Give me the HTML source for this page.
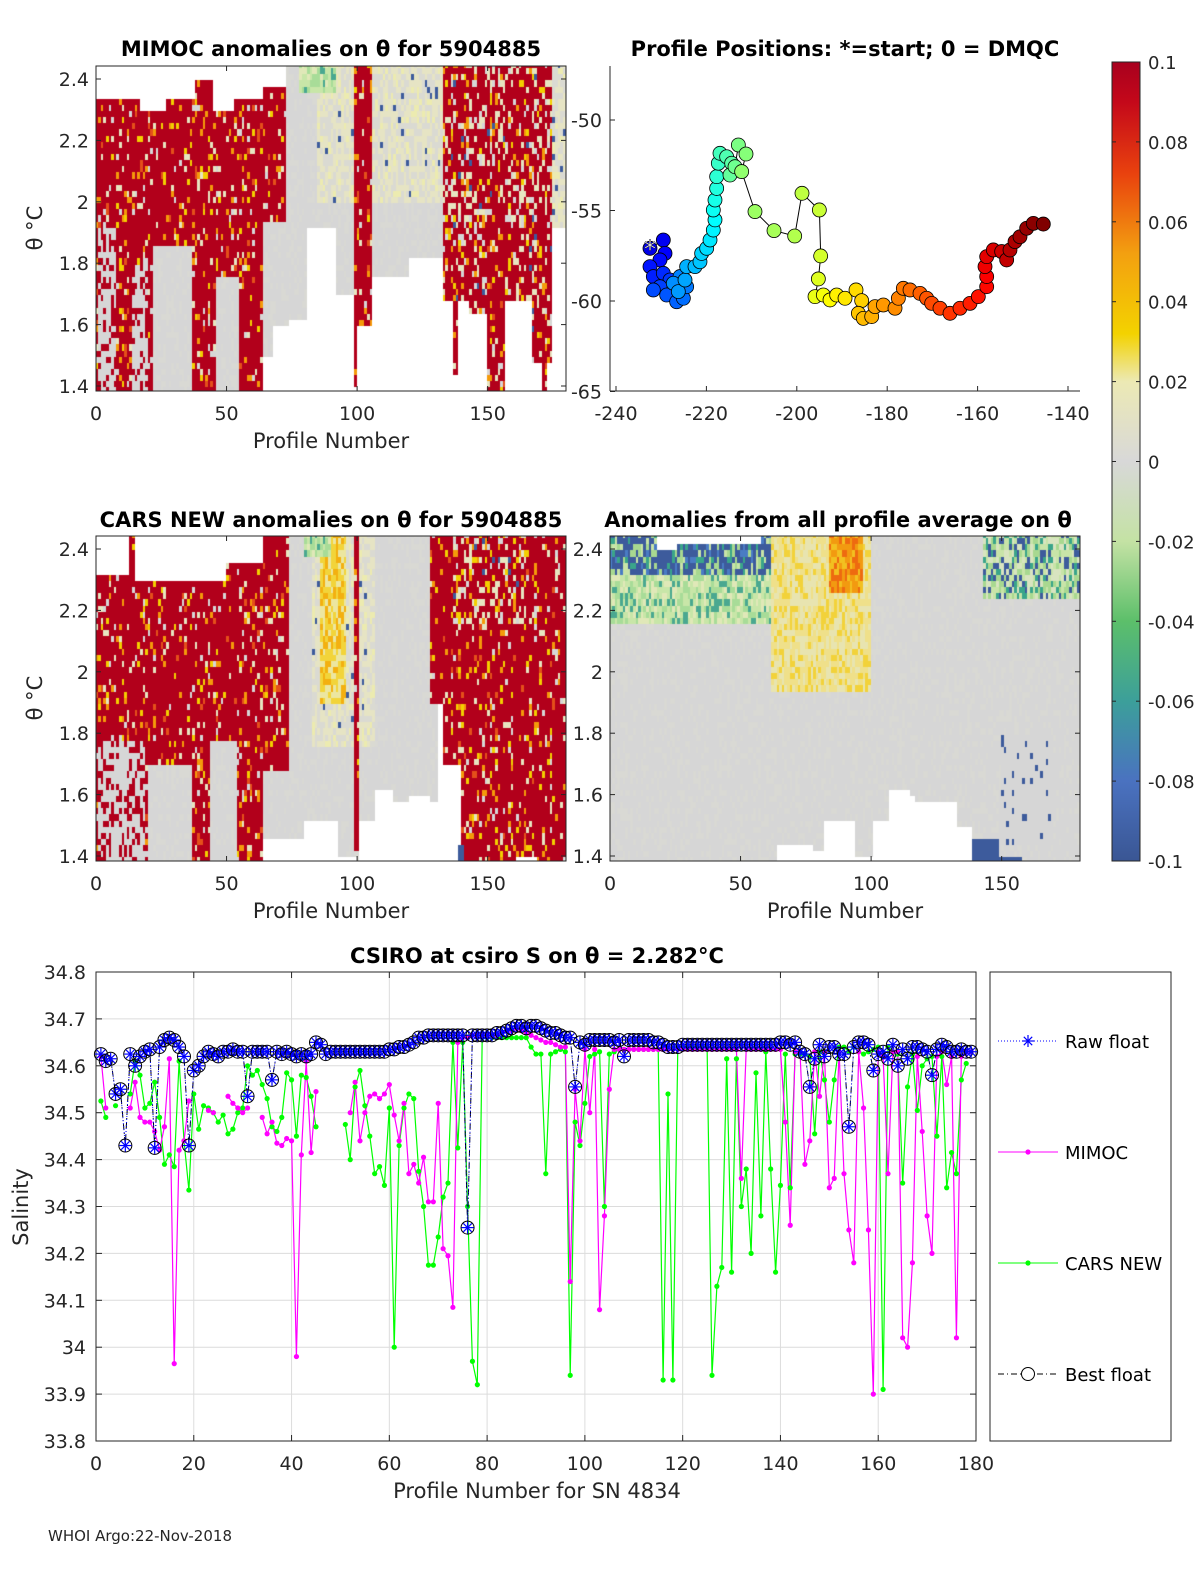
<!DOCTYPE html>
<html><head><meta charset="utf-8"><style>
body{margin:0;background:#fff;}
#wrap{position:relative;width:1200px;height:1575px;overflow:hidden;background:#fff;font-family:"DejaVu Sans","Liberation Sans",sans-serif;}
canvas{position:absolute;}
svg{position:absolute;left:0;top:0;}
</style></head><body>
<div id="wrap">
<canvas id="hm1" width="470" height="325" style="left:96px;top:66px"></canvas>
<canvas id="hm2" width="470" height="325" style="left:96px;top:536px"></canvas>
<canvas id="hm3" width="470" height="325" style="left:610px;top:536px"></canvas>
<svg id="svg" width="1200" height="1575" xmlns="http://www.w3.org/2000/svg" font-family="DejaVu Sans, Liberation Sans, sans-serif">
<defs><linearGradient id="cbg" x1="0" y1="1" x2="0" y2="0">
<stop offset="0" stop-color="#3a5694"/><stop offset="0.1" stop-color="#4a72c0"/><stop offset="0.2" stop-color="#3c9f9a"/><stop offset="0.3" stop-color="#5cbf6a"/><stop offset="0.4" stop-color="#c4e2a4"/><stop offset="0.5" stop-color="#d8d8d8"/><stop offset="0.6" stop-color="#ece9b4"/><stop offset="0.66" stop-color="#f3d200"/><stop offset="0.76" stop-color="#f3a010"/><stop offset="0.86" stop-color="#e9420e"/><stop offset="0.95" stop-color="#c4081a"/><stop offset="1" stop-color="#a8001e"/></linearGradient></defs>
</svg>
</div>
<script>
// ===== Bottom chart data (profile 1..179) =====
const bestFloat=[34.625,34.61,34.615,34.54,34.55,34.43,34.625,34.60,34.62,34.63,
34.635,34.425,34.64,34.655,34.66,34.655,34.64,34.62,34.43,34.59,
34.60,34.62,34.63,34.625,34.62,34.63,34.63,34.635,34.63,34.63,
34.535,34.63,34.63,34.63,34.63,34.57,34.63,34.625,34.63,34.625,
34.62,34.625,34.62,34.625,34.65,34.645,34.625,34.63,34.63,34.63,
34.63,34.63,34.63,34.63,34.63,34.63,34.63,34.63,34.63,34.635,
34.635,34.64,34.64,34.645,34.65,34.66,34.66,34.665,34.665,34.665,
34.665,34.665,34.665,34.665,34.665,34.255,34.665,34.665,34.665,34.665,
34.665,34.67,34.67,34.675,34.68,34.685,34.685,34.68,34.685,34.685,
34.68,34.675,34.67,34.67,34.665,34.66,34.66,34.555,34.65,34.645,
34.655,34.655,34.655,34.655,34.655,34.65,34.655,34.62,34.655,34.655,
34.655,34.655,34.655,34.65,34.65,34.645,34.64,34.64,34.64,34.645,
34.645,34.645,34.645,34.645,34.645,34.645,34.645,34.645,34.645,34.645,
34.645,34.645,34.645,34.645,34.645,34.645,34.645,34.645,34.645,34.65,
34.65,34.645,34.65,34.63,34.625,34.555,34.615,34.645,34.62,34.64,
34.64,34.625,34.625,34.47,34.64,34.65,34.65,34.645,34.59,34.625,
34.63,34.615,34.645,34.60,34.635,34.615,34.64,34.64,34.635,34.63,
34.58,34.635,34.645,34.64,34.63,34.63,34.635,34.63,34.63];
const mimoc=[34.62,34.51,null,null,null,null,34.51,34.565,34.49,34.48,
34.48,34.46,34.42,34.47,34.615,33.965,34.42,34.44,34.525,null,
null,null,34.505,34.5,null,null,34.535,34.52,34.51,34.5,
34.51,null,null,34.49,34.455,34.48,34.435,34.43,34.445,34.44,
33.98,34.41,34.61,34.415,34.545,null,null,null,null,null,
null,34.5,34.565,34.44,34.5,34.535,34.54,34.53,34.54,34.56,
34.495,34.44,34.52,34.37,34.39,34.35,34.405,34.31,34.31,34.52,
34.21,34.195,34.085,34.65,34.66,34.66,34.665,34.665,34.665,34.665,
34.665,34.665,34.67,34.675,34.675,34.68,34.675,34.67,34.665,34.66,
34.655,34.65,34.65,34.645,34.64,34.64,34.14,34.55,34.44,34.635,
34.5,34.635,34.08,34.28,34.55,34.635,34.635,34.635,34.635,34.635,
34.635,34.635,34.635,34.635,34.635,34.635,34.635,34.635,34.635,34.635,
34.635,34.635,34.635,34.635,34.635,34.635,34.635,34.635,34.635,34.635,
34.635,34.36,34.635,34.635,34.635,34.635,34.635,34.635,34.635,34.635,
34.48,34.26,34.63,34.63,34.39,34.44,34.63,34.535,34.63,34.34,
34.36,34.63,34.37,34.25,34.18,34.63,34.51,34.25,33.90,34.63,
34.62,34.37,34.63,34.63,34.02,34.0,34.18,34.62,34.46,34.28,
34.2,34.62,34.63,34.56,34.62,34.02,34.62,34.63,34.63];
const carsNew=[34.525,34.49,null,34.515,null,null,34.54,34.61,34.58,34.51,
34.52,34.565,34.49,34.39,34.41,34.385,34.61,34.44,34.335,34.54,
34.465,34.515,34.51,34.5,34.48,34.495,34.455,34.465,34.5,34.51,
34.6,34.58,34.59,34.56,34.53,34.47,34.46,34.49,34.585,34.57,
34.45,34.58,34.575,34.535,34.47,null,null,null,null,null,
34.475,34.4,34.555,34.59,34.515,34.45,34.37,34.385,34.345,34.51,
34.0,34.43,34.51,34.54,34.53,34.375,34.3,34.175,34.175,34.235,
34.32,34.35,34.65,34.425,34.65,34.3,33.97,33.92,34.66,34.66,
34.66,34.66,34.66,34.66,34.66,34.66,34.66,34.66,34.64,34.625,
34.625,34.37,34.625,34.63,34.635,34.63,33.94,34.48,34.43,34.52,
34.62,34.625,34.63,34.3,34.625,34.63,34.635,34.635,34.635,34.635,
34.635,34.635,34.635,34.635,34.635,33.93,34.54,33.93,34.64,34.64,
34.64,34.64,34.64,34.64,34.64,33.94,34.13,34.17,34.615,34.16,
34.615,34.3,34.38,34.2,34.585,34.28,34.63,34.38,34.16,34.345,
34.625,34.34,34.625,34.625,34.625,34.62,34.455,34.63,34.57,34.48,
34.57,34.64,34.64,34.63,34.64,34.63,34.625,34.63,34.635,34.64,
33.91,34.64,34.63,34.625,34.35,34.555,34.625,34.505,34.6,34.615,
34.62,34.45,34.62,34.34,34.415,34.37,34.57,34.605,null];
const salTicks=[34.8,34.7,34.6,34.5,34.4,34.3,34.2,34.1,34,33.9,33.8];
const profTicks=[0,20,40,60,80,100,120,140,160,180];
// ===== Map data =====
const trackLon=[-232.48,-229.53,-229.16,-230.27,-232.48,-231.74,-229.53,-228.05,-230.27,-231.74,-228.79,-226.58,-225.1,-224.37,-225.84,-227.32,-226.21,-224.73,-224.37,-222.52,-221.42,-221.05,-219.94,-219.2,-218.47,-218.1,-218.47,-218.1,-217.73,-217.73,-217.36,-216.99,-215.52,-214.41,-214.78,-213.67,-212.93,-211.24,-212.2,-209.25,-205.04,-200.47,-198.85,-195.01,-194.72,-195.23,-195.97,-194.13,-192.65,-191.18,-189.33,-186.9,-185.65,-186.38,-185.28,-183.43,-182.7,-180.85,-178.27,-177.53,-176.43,-174.95,-172.74,-171.27,-170.16,-168.32,-166.1,-163.89,-161.68,-159.84,-157.99,-157.99,-158.36,-157.99,-156.52,-154.68,-153.57,-152.83,-151.72,-150.62,-149.14,-147.67,-145.46];
const trackLat=[-57.09,-56.63,-57.37,-57.73,-58.1,-58.65,-58.47,-58.84,-59.21,-59.39,-59.67,-60.04,-59.85,-59.21,-58.65,-59.02,-59.48,-58.84,-58.1,-58.1,-57.83,-57.37,-57.09,-56.63,-56.08,-55.52,-54.97,-54.42,-53.78,-53.13,-52.39,-51.84,-52.03,-52.39,-53.04,-52.58,-51.38,-51.88,-52.85,-55.06,-56.11,-56.41,-54.05,-54.97,-57.51,-58.78,-59.76,-59.67,-59.94,-59.67,-59.85,-59.39,-59.98,-60.68,-60.96,-60.86,-60.31,-60.22,-60.4,-59.85,-59.3,-59.39,-59.58,-59.85,-60.13,-60.4,-60.68,-60.4,-60.13,-59.76,-59.21,-58.65,-58.1,-57.55,-57.18,-57.27,-57.73,-57.18,-56.72,-56.45,-55.98,-55.71,-55.75];
const lonTicks=[-240,-220,-200,-180,-160,-140];
const latTicks=[-50,-55,-60,-65];
const thetaTicks=[2.4,2.2,2,1.8,1.6,1.4];
const cbTicks=[0.1,0.08,0.06,0.04,0.02,0,-0.02,-0.04,-0.06,-0.08,-0.1];
// ===== Heatmap regions [p0,p1,thetaLo,thetaHi,type] =====
const regMimoc=[[0,64,1.38,2.46,'r'],[1.5,8,1.38,1.92,'gm'],[14,20,1.38,1.8,'gm'],[22,37,1.38,1.85,'g'],[46,55,1.38,1.76,'g'],
[0,38,2.34,2.46,'w'],[17,27,2.305,2.46,'w'],[38,45,2.40,2.46,'w'],[45,53,2.29,2.46,'w'],[53,64,2.34,2.46,'w'],
[64,73,1.95,2.37,'r'],[64,74,1.38,1.95,'g'],[64,68,1.38,1.5,'w'],[68,74,1.38,1.59,'w'],[73,74,1.95,2.46,'g'],
[74,133,1.38,2.46,'g'],[85,133,2.0,2.46,'y'],[78,92,2.36,2.46,'lg'],
[74,81,1.38,1.63,'w'],[81,92,1.38,1.92,'w'],[92,99,1.38,1.70,'w'],[99,106,1.6,2.46,'r'],[99,106,1.38,1.6,'w'],[99,100,1.41,1.6,'r'],[106,120,1.38,1.76,'w'],[120,133,1.38,1.815,'w'],
[133,176,1.38,2.46,'rm'],[133,143,1.38,1.68,'w'],[137,139,1.44,1.68,'r'],[143,150,1.38,1.64,'w'],[150,157,1.38,2.0,'r'],[157,167,1.38,1.68,'w'],[167,175,1.38,1.475,'w'],[171,173,1.38,1.475,'r'],
[175,181,1.92,2.46,'y'],[175,181,1.38,1.92,'w']];
const regCars=[[0,64,1.38,2.46,'r'],[0,13,2.31,2.46,'w'],[15,50,2.30,2.46,'w'],[50,64,2.35,2.46,'w'],
[1.5,19,1.38,1.77,'gm'],[20,37,1.38,1.71,'g'],[44,54,1.38,1.78,'g'],
[64,74,1.68,2.46,'r'],[64,74,1.38,1.68,'g'],[74,131,1.38,2.46,'g'],[83,107,1.75,2.46,'y'],[86,96,1.9,2.46,'yo'],[80,90,2.38,2.46,'lg'],[99,101,1.43,2.46,'r'],
[128,181,1.9,2.46,'r'],[133,181,1.7,1.9,'r'],[140,181,1.38,1.7,'r'],[137,165,2.15,2.46,'rm'],
[64,80,1.38,1.454,'w'],[80,93,1.38,1.53,'w'],[93,100,1.38,1.41,'w'],[101,107,1.38,1.52,'w'],[107,114,1.38,1.62,'w'],[114,120,1.38,1.585,'w'],[120,128,1.38,1.6,'w'],[128,132,1.38,1.575,'w'],[132,136,1.38,1.55,'w'],[136,140,1.38,1.52,'w'],[139,141,1.38,1.45,'bb'],[161,169,1.38,1.40,'w']];
const regAvg=[[0,181,1.38,2.46,'g'],[0,62,2.15,2.32,'lg'],[0,62,2.32,2.46,'b'],[18.5,26,2.39,2.46,'w'],[26,58,2.425,2.46,'w'],
[62,100,1.95,2.46,'yel'],[64,96,2.15,2.46,'yel'],[84,97,2.25,2.46,'o'],[143,181,2.23,2.46,'b2'],[150,170,1.45,1.8,'bs'],
[64.5,78,1.38,1.45,'w'],[78,82,1.38,1.42,'w'],[82,94,1.38,1.53,'w'],[94,101,1.38,1.41,'w'],[101,107,1.38,1.53,'w'],[107,115,1.38,1.63,'w'],[115,117,1.38,1.59,'w'],[117,133,1.38,1.57,'w'],[133,139,1.38,1.51,'w'],
[139,149,1.38,1.46,'bb'],[149,158,1.38,1.40,'bb']];

function hsh(i,j,s){let h=Math.imul(i+1,73856093)^Math.imul(j+7,19349663)^Math.imul(s+3,83492791);h^=h>>>13;h=Math.imul(h,1274126177);h^=h>>>16;return (h>>>0)%1000/1000;}
function cellColor(t,v){
 switch(t){
 case 'r': return v<0.82?'#b2001b':v<0.86?'#e7e5c0':v<0.90?'#f49a0a':v<0.93?'#f3cf00':v<0.95?'#e4501a':v<0.98?'#d6d6d6':'#b2001b';
 case 'rm': return v<0.62?'#b2001b':v<0.76?'#e7e5c0':v<0.84?'#d6d6d6':v<0.89?'#f49a0a':v<0.93?'#f3cf00':v<0.95?'#3d5b9c':'#b2001b';
 case 'gm': return v<0.65?'#d6d6d6':'#b2001b';
 case 'g': return v<0.7?'#d6d6d6':'#d9d9d4';
 case 'y': return v<0.45?'#e6e4c4':v<0.85?'#dadad2':v<0.97?'#ecebb0':'#3d5b9c';
 case 'yo': return v<0.4?'#f2d43a':v<0.75?'#ece6a0':'#f3b010';
 case 'lg': return v<0.35?'#c8e6a8':v<0.6?'#a8dc98':v<0.85?'#e0e8b8':'#4aa890';
 case 'b': return v<0.5?'#3d5b9c':v<0.62?'#4a7cc4':v<0.75?'#3aa58a':v<0.9?'#a8d890':'#c8e4a8';
 case 'b2': return v<0.3?'#c8e4a8':v<0.5?'#a8d890':v<0.62?'#3aa58a':v<0.85?'#d8e4c0':'#3d5b9c';
 case 'bs': return v<0.93?'#d6d6d6':'#3d5b9c';
 case 'yel': return v<0.4?'#efe08a':v<0.75?'#e8e4b0':'#f2d23a';
 case 'o': return v<0.4?'#f29a10':v<0.7?'#f2c020':'#ee6a10';
 case 'bb': return '#3d5b9c';
 default: return '#ffffff';}
}
function drawHeat(id,regs,seed){
 const c=document.getElementById(id).getContext('2d');
 const W=470,xs=p=>p*W/180,ys=th=>13+(2.4-th)*307;
 const dth=0.02;
 for(let p=0;p<181;p++){
  for(let k=0;k<54;k++){
   const th=1.38+k*dth+dth/2, pc=p+0.5;
   let t='w';
   for(const r of regs){ if(pc>=r[0]&&pc<r[1]&&th>=r[2]&&th<r[3]) t=r[4]; }
   const v=hsh(p,k,seed);
   c.fillStyle=cellColor(t,v);
   const x0=xs(p),y0=ys(th+dth/2);
   c.fillRect(Math.floor(x0),Math.floor(y0),Math.ceil(xs(p+1)-x0)+1,Math.ceil(dth*307)+1);
  }
 }
}
drawHeat('hm1',regMimoc,1);drawHeat('hm2',regCars,2);drawHeat('hm3',regAvg,3);

const svg=document.getElementById('svg');const NS='http://www.w3.org/2000/svg';
function el(tag,attrs,parent){const e=document.createElementNS(NS,tag);for(const k in attrs)e.setAttribute(k,attrs[k]);(parent||svg).appendChild(e);return e;}
function txt(s,x,y,size,anchor,parent,extra){const e=el('text',Object.assign({x:x,y:y,'font-size':size,'text-anchor':anchor||'middle',fill:'#262626'},extra||{}),parent);e.textContent=s;return e;}

function heatAxes(x0,y0,name){
 const g=el('g',{});
 
 
 el('rect',{x:x0,y:y0,width:470,height:325,fill:'none',stroke:'#262626','stroke-width':1},g);
 const xs=p=>x0+p*470/180, ys=th=>y0+13+(2.4-th)*307;
 [0,50,100,150].forEach(p=>{el('line',{x1:xs(p),y1:y0+325,x2:xs(p),y2:y0+320,stroke:'#262626'},g);el('line',{x1:xs(p),y1:y0,x2:xs(p),y2:y0+5,stroke:'#262626'},g);
  const t=txt(String(p),xs(p),y0+354,19,'middle',g);});
 thetaTicks.forEach(th=>{el('line',{x1:x0,y1:ys(th),x2:x0+5,y2:ys(th),stroke:'#262626'},g);el('line',{x1:x0+470,y1:ys(th),x2:x0+465,y2:ys(th),stroke:'#262626'},g);
  const t=txt(String(th),x0-7,ys(th)+7,19,'end',g);});
 return g;
}
heatAxes(96,66,'mimoc-axes');heatAxes(96,536,'cars-axes');heatAxes(610,536,'average-axes');

function T(s,x,y,size,anchor,name,extra){const t=txt(s,x,y,size,anchor,svg,extra);return t;}
T('MIMOC anomalies on θ  for 5904885',331,56,21,'middle','mimoc-title',{'font-weight':'bold',fill:'#000'});
T('Profile Positions: *=start; 0 = DMQC',845,56,21,'middle','map-title',{'font-weight':'bold',fill:'#000'});
T('CARS NEW anomalies on θ for 5904885',331,527,21,'middle','cars-title',{'font-weight':'bold',fill:'#000'});
T('Anomalies from all profile average on θ',838,527,21,'middle','average-title',{'font-weight':'bold',fill:'#000'});
T('Profile Number',331,448,21,'middle','mimoc-x-axis-title');
T('Profile Number',331,918,21,'middle','cars-x-axis-title');
T('Profile Number',845,918,21,'middle','average-x-axis-title');
T('θ °C',42,228,21,'middle','mimoc-y-axis-title',{transform:'rotate(-90 42 228)'});
T('θ °C',42,698,21,'middle','cars-y-axis-title',{transform:'rotate(-90 42 698)'});

// ===== Map =====
const mg=el('g',{});
const mx=lon=>616+(lon+240)*4.52, my=lat=>120+(-50-lat)*18.1;
el('line',{x1:610,y1:66,x2:610,y2:391,stroke:'#262626'},mg);el('line',{x1:610,y1:391,x2:1080,y2:391,stroke:'#262626'},mg);
lonTicks.forEach(v=>{el('line',{x1:mx(v),y1:391,x2:mx(v),y2:386,stroke:'#262626'},mg);const t=txt(String(v),mx(v),420,19,'middle',mg);});
latTicks.forEach(v=>{el('line',{x1:610,y1:my(v),x2:615,y2:my(v),stroke:'#262626'},mg);const t=txt(String(v),602,my(v)+7,19,'end',mg);});
let pth='';trackLon.forEach((l,i)=>{pth+=(i?'L':'M')+mx(l).toFixed(1)+' '+my(trackLat[i]).toFixed(1);});
const tl=el('path',{d:pth,fill:'none',stroke:'#000','stroke-width':1},mg);
function jet(t){const r=Math.max(0,Math.min(1,1.5-Math.abs(4*t-3))),g=Math.max(0,Math.min(1,1.5-Math.abs(4*t-2))),b=Math.max(0,Math.min(1,1.5-Math.abs(4*t-1)));return `rgb(${Math.round(r*255)},${Math.round(g*255)},${Math.round(b*255)})`;}
const nT=trackLon.length;
trackLon.forEach((l,i)=>{const c=el('circle',{cx:mx(l),cy:my(trackLat[i]),r:7,fill:jet(0.1+0.9*i/(nT-1)),stroke:'#000','stroke-width':0.8},mg);
 });
const st=el('text',{x:mx(trackLon[0]),y:my(trackLat[0])+9,'font-size':24,'text-anchor':'middle',fill:'#fff',stroke:'#223','stroke-width':0.5},mg);st.textContent='*';


// ===== Colorbar =====
const cb=el('g',{});
el('rect',{x:1112,y:62,width:28,height:799,fill:'url(#cbg)',stroke:'#262626'},cb);
const cby=v=>62+(0.1-v)*799/0.2;
cbTicks.forEach(v=>{el('line',{x1:1112,y1:cby(v),x2:1116,y2:cby(v),stroke:'#262626'},cb);el('line',{x1:1140,y1:cby(v),x2:1136,y2:cby(v),stroke:'#262626'},cb);
 const t=txt(String(v),1148,cby(v)+7,18,'start',cb);});

// ===== Salinity chart =====
const X0=96,X1=976,Y0=972,Y1=1441;
const sx=p=>X0+p*(X1-X0)/180, sy=s=>Y0+(34.8-s)*(Y1-Y0)/1.0;
const sg=el('g',{});
el('rect',{x:X0,y:Y0,width:X1-X0,height:Y1-Y0,fill:'#fff'},sg);
profTicks.forEach(p=>{el('line',{x1:sx(p),y1:Y0,x2:sx(p),y2:Y1,stroke:'#dcdcdc'},sg);el('line',{x1:sx(p),y1:Y1,x2:sx(p),y2:Y1-6,stroke:'#262626'},sg);el('line',{x1:sx(p),y1:Y0,x2:sx(p),y2:Y0+6,stroke:'#262626'},sg);
 const t=txt(String(p),sx(p),Y1+29,19,'middle',sg);});
salTicks.forEach(s=>{el('line',{x1:X0,y1:sy(s),x2:X1,y2:sy(s),stroke:'#dcdcdc'},sg);el('line',{x1:X0,y1:sy(s),x2:X0+6,y2:sy(s),stroke:'#262626'},sg);el('line',{x1:X1,y1:sy(s),x2:X1-6,y2:sy(s),stroke:'#262626'},sg);
 const t=txt(String(s),86,sy(s)+7,19,'end',sg);});
el('rect',{x:X0,y:Y0,width:X1-X0,height:Y1-Y0,fill:'none',stroke:'#262626'},sg);
function linePath(arr){let d='',pen=false;arr.forEach((v,i)=>{if(v===null){pen=false;return;}d+=(pen?'L':'M')+sx(i+1).toFixed(1)+' '+sy(v).toFixed(1);pen=true;});return d;}
const gl=el('path',{d:linePath(carsNew),fill:'none',stroke:'#00ff00','stroke-width':1.2},sg);
const ml=el('path',{d:linePath(mimoc),fill:'none',stroke:'#ff00ff','stroke-width':1.2},sg);
carsNew.forEach((v,i)=>{if(v===null)return;const c=el('circle',{cx:sx(i+1),cy:sy(v),r:2.6,fill:'#00ff00'},sg);});
mimoc.forEach((v,i)=>{if(v===null)return;const c=el('circle',{cx:sx(i+1),cy:sy(v),r:2.6,fill:'#ff00ff'},sg);});
const bl=el('path',{d:linePath(bestFloat),fill:'none',stroke:'#000','stroke-width':1,'stroke-dasharray':'6 3 1 3'},sg);
const rl=el('path',{d:linePath(bestFloat),fill:'none',stroke:'#0000ff','stroke-width':1,'stroke-dasharray':'1 2'},sg);
function star(x,y,parent,col){const g=el('g',{stroke:col,'stroke-width':1.2},parent);[[0,6],[6,0],[4.2,4.2],[4.2,-4.2]].forEach(d=>el('line',{x1:x-d[0],y1:y-d[1],x2:x+d[0],y2:y+d[1]},g));return g;}
bestFloat.forEach((v,i)=>{const c=el('circle',{cx:sx(i+1),cy:sy(v),r:6.5,fill:'none',stroke:'#000','stroke-width':1},sg);
 const s=star(sx(i+1),sy(v),sg,'#0000ff');});
T('CSIRO at csiro S on θ = 2.282°C',537,963,21,'middle','salinity-title',{'font-weight':'bold',fill:'#000'});
T('Profile Number for SN 4834',537,1498,21,'middle','salinity-x-axis-title');
T('Salinity',28,1207,21,'middle','salinity-y-axis-title',{transform:'rotate(-90 28 1207)'});
T('WHOI Argo:22-Nov-2018',48,1541,15,'start','footer-date');

// ===== Legend =====
const lg=el('g',{});
el('rect',{x:990,y:972,width:181,height:469,fill:'#fff',stroke:'#262626'},lg);
const le=[['Raw float',1041,'raw'],['MIMOC',1152,'mimoc'],['CARS NEW',1263,'cars'],['Best float',1374,'best']];
le.forEach(e=>{const g=el('g',{},lg);
 const y=e[1];
 if(e[2]==='raw'){el('line',{x1:998,y1:y,x2:1058,y2:y,stroke:'#0000ff','stroke-dasharray':'1 2'},g);star(1028,y,g,'#0000ff');}
 if(e[2]==='mimoc'){el('line',{x1:998,y1:y,x2:1058,y2:y,stroke:'#ff00ff'},g);el('circle',{cx:1028,cy:y,r:2.6,fill:'#ff00ff'},g);}
 if(e[2]==='cars'){el('line',{x1:998,y1:y,x2:1058,y2:y,stroke:'#00ff00'},g);el('circle',{cx:1028,cy:y,r:2.6,fill:'#00ff00'},g);}
 if(e[2]==='best'){el('line',{x1:998,y1:y,x2:1058,y2:y,stroke:'#000','stroke-dasharray':'6 3 1 3'},g);el('circle',{cx:1028,cy:y,r:6.5,fill:'#fff',stroke:'#000'},g);}
 txt(e[0],1065,y+7,18,'start',g,{fill:'#000'});});
</script>
</body></html>
